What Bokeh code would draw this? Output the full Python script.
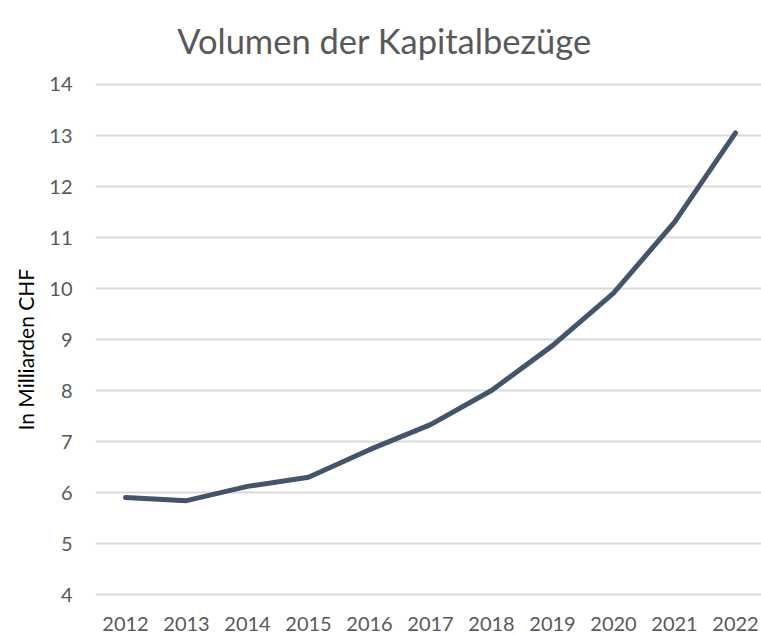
from bokeh.plotting import figure
from bokeh.models import Range1d, FixedTicker, ColumnDataSource, Label, Title
from bokeh.embed import file_html
from bokeh.resources import INLINE

years = [2012, 2013, 2014, 2015, 2016, 2017, 2018, 2019, 2020, 2021, 2022]
volume = [5.90, 5.84, 6.12, 6.30, 6.84, 7.33, 8.00, 8.88, 9.91, 11.30, 13.05]
y_ticks = [4, 5, 6, 7, 8, 9, 10, 11, 12, 13, 14]
title_text = "Volumen der Kapitalbezüge"
y_label = "In Milliarden CHF"

src = ColumnDataSource(dict(x=years, y=volume))

p = figure(width=761, height=635, output_backend="svg", toolbar_location=None,
           x_range=Range1d(2011.508, 2022.426), y_range=Range1d(3.863, 15.647),
           min_border_left=95, min_border_right=0, min_border_top=0, min_border_bottom=34)

p.outline_line_color = None
p.background_fill_color = "white"
p.border_fill_color = "white"

p.line("x", "y", source=src, line_color="#44546A", line_width=5, line_cap="round", line_join="round")

title = Label(x=2016.246, y=14.863, text=title_text, text_align="center",
              text_baseline="alphabetic", text_font="Lato", text_font_size="34.5px",
              text_color="#595959")
p.add_layout(title)

p.xaxis.ticker = FixedTicker(ticks=years)
p.xaxis.major_label_overrides = {y: str(y) for y in years}
p.yaxis.ticker = FixedTicker(ticks=y_ticks)

for ax in (p.xaxis[0], p.yaxis[0]):
    ax.axis_line_color = None
    ax.major_tick_line_color = None
    ax.minor_tick_line_color = None
    ax.major_tick_out = 0
    ax.major_tick_in = 0
    ax.major_label_text_font = "Lato"
    ax.major_label_text_font_size = "20px"
    ax.major_label_text_color = "#595959"

p.xaxis.major_label_standoff = 15
p.yaxis.major_label_standoff = 23

ylab = Title(text=y_label, align="left", offset=171, vertical_align="bottom", standoff=18,
             text_font="Lato", text_font_size="21px", text_font_style="normal",
             text_color="#000000")
p.add_layout(ylab, "left")

p.xgrid.grid_line_color = None
p.ygrid.ticker = FixedTicker(ticks=y_ticks)
p.ygrid.grid_line_color = "#D9D9D9"
p.ygrid.grid_line_width = 2

open("out.html", "w").write(file_html(p, INLINE))
